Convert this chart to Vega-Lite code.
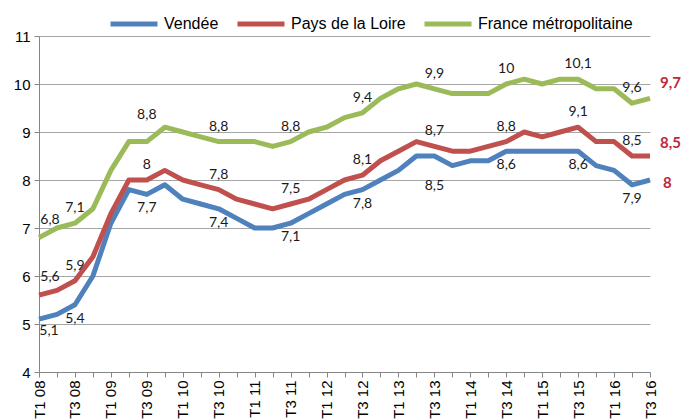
{
  "$schema": "https://vega.github.io/schema/vega-lite/v6.json",
  "width": 611,
  "height": 336,
  "autosize": {"type": "none"},
  "padding": {"left": 39, "top": 36, "right": 31, "bottom": 47},
  "background": "white",
  "config": {
    "view": {"stroke": null},
    "locale": {"number": {"decimal": ",", "thousands": " ", "grouping": [3], "currency": ["", " €"]}}
  },
  "datasets": {
    "d": [
      {"q": "T1 08", "s": "Vendée", "v": 5.1}, {"q": "T2 08", "s": "Vendée", "v": 5.2}, {"q": "T3 08", "s": "Vendée", "v": 5.4}, {"q": "T4 08", "s": "Vendée", "v": 6.0},
      {"q": "T1 09", "s": "Vendée", "v": 7.1}, {"q": "T2 09", "s": "Vendée", "v": 7.8}, {"q": "T3 09", "s": "Vendée", "v": 7.7}, {"q": "T4 09", "s": "Vendée", "v": 7.9},
      {"q": "T1 10", "s": "Vendée", "v": 7.6}, {"q": "T2 10", "s": "Vendée", "v": 7.5}, {"q": "T3 10", "s": "Vendée", "v": 7.4}, {"q": "T4 10", "s": "Vendée", "v": 7.2},
      {"q": "T1 11", "s": "Vendée", "v": 7.0}, {"q": "T2 11", "s": "Vendée", "v": 7.0}, {"q": "T3 11", "s": "Vendée", "v": 7.1}, {"q": "T4 11", "s": "Vendée", "v": 7.3},
      {"q": "T1 12", "s": "Vendée", "v": 7.5}, {"q": "T2 12", "s": "Vendée", "v": 7.7}, {"q": "T3 12", "s": "Vendée", "v": 7.8}, {"q": "T4 12", "s": "Vendée", "v": 8.0},
      {"q": "T1 13", "s": "Vendée", "v": 8.2}, {"q": "T2 13", "s": "Vendée", "v": 8.5}, {"q": "T3 13", "s": "Vendée", "v": 8.5}, {"q": "T4 13", "s": "Vendée", "v": 8.3},
      {"q": "T1 14", "s": "Vendée", "v": 8.4}, {"q": "T2 14", "s": "Vendée", "v": 8.4}, {"q": "T3 14", "s": "Vendée", "v": 8.6}, {"q": "T4 14", "s": "Vendée", "v": 8.6},
      {"q": "T1 15", "s": "Vendée", "v": 8.6}, {"q": "T2 15", "s": "Vendée", "v": 8.6}, {"q": "T3 15", "s": "Vendée", "v": 8.6}, {"q": "T4 15", "s": "Vendée", "v": 8.3},
      {"q": "T1 16", "s": "Vendée", "v": 8.2}, {"q": "T2 16", "s": "Vendée", "v": 7.9}, {"q": "T3 16", "s": "Vendée", "v": 8.0},
      {"q": "T1 08", "s": "Pays de la Loire", "v": 5.6}, {"q": "T2 08", "s": "Pays de la Loire", "v": 5.7}, {"q": "T3 08", "s": "Pays de la Loire", "v": 5.9}, {"q": "T4 08", "s": "Pays de la Loire", "v": 6.4},
      {"q": "T1 09", "s": "Pays de la Loire", "v": 7.3}, {"q": "T2 09", "s": "Pays de la Loire", "v": 8.0}, {"q": "T3 09", "s": "Pays de la Loire", "v": 8.0}, {"q": "T4 09", "s": "Pays de la Loire", "v": 8.2},
      {"q": "T1 10", "s": "Pays de la Loire", "v": 8.0}, {"q": "T2 10", "s": "Pays de la Loire", "v": 7.9}, {"q": "T3 10", "s": "Pays de la Loire", "v": 7.8}, {"q": "T4 10", "s": "Pays de la Loire", "v": 7.6},
      {"q": "T1 11", "s": "Pays de la Loire", "v": 7.5}, {"q": "T2 11", "s": "Pays de la Loire", "v": 7.4}, {"q": "T3 11", "s": "Pays de la Loire", "v": 7.5}, {"q": "T4 11", "s": "Pays de la Loire", "v": 7.6},
      {"q": "T1 12", "s": "Pays de la Loire", "v": 7.8}, {"q": "T2 12", "s": "Pays de la Loire", "v": 8.0}, {"q": "T3 12", "s": "Pays de la Loire", "v": 8.1}, {"q": "T4 12", "s": "Pays de la Loire", "v": 8.4},
      {"q": "T1 13", "s": "Pays de la Loire", "v": 8.6}, {"q": "T2 13", "s": "Pays de la Loire", "v": 8.8}, {"q": "T3 13", "s": "Pays de la Loire", "v": 8.7}, {"q": "T4 13", "s": "Pays de la Loire", "v": 8.6},
      {"q": "T1 14", "s": "Pays de la Loire", "v": 8.6}, {"q": "T2 14", "s": "Pays de la Loire", "v": 8.7}, {"q": "T3 14", "s": "Pays de la Loire", "v": 8.8}, {"q": "T4 14", "s": "Pays de la Loire", "v": 9.0},
      {"q": "T1 15", "s": "Pays de la Loire", "v": 8.9}, {"q": "T2 15", "s": "Pays de la Loire", "v": 9.0}, {"q": "T3 15", "s": "Pays de la Loire", "v": 9.1}, {"q": "T4 15", "s": "Pays de la Loire", "v": 8.8},
      {"q": "T1 16", "s": "Pays de la Loire", "v": 8.8}, {"q": "T2 16", "s": "Pays de la Loire", "v": 8.5}, {"q": "T3 16", "s": "Pays de la Loire", "v": 8.5},
      {"q": "T1 08", "s": "France métropolitaine", "v": 6.8}, {"q": "T2 08", "s": "France métropolitaine", "v": 7.0}, {"q": "T3 08", "s": "France métropolitaine", "v": 7.1}, {"q": "T4 08", "s": "France métropolitaine", "v": 7.4},
      {"q": "T1 09", "s": "France métropolitaine", "v": 8.2}, {"q": "T2 09", "s": "France métropolitaine", "v": 8.8}, {"q": "T3 09", "s": "France métropolitaine", "v": 8.8}, {"q": "T4 09", "s": "France métropolitaine", "v": 9.1},
      {"q": "T1 10", "s": "France métropolitaine", "v": 9.0}, {"q": "T2 10", "s": "France métropolitaine", "v": 8.9}, {"q": "T3 10", "s": "France métropolitaine", "v": 8.8}, {"q": "T4 10", "s": "France métropolitaine", "v": 8.8},
      {"q": "T1 11", "s": "France métropolitaine", "v": 8.8}, {"q": "T2 11", "s": "France métropolitaine", "v": 8.7}, {"q": "T3 11", "s": "France métropolitaine", "v": 8.8}, {"q": "T4 11", "s": "France métropolitaine", "v": 9.0},
      {"q": "T1 12", "s": "France métropolitaine", "v": 9.1}, {"q": "T2 12", "s": "France métropolitaine", "v": 9.3}, {"q": "T3 12", "s": "France métropolitaine", "v": 9.4}, {"q": "T4 12", "s": "France métropolitaine", "v": 9.7},
      {"q": "T1 13", "s": "France métropolitaine", "v": 9.9}, {"q": "T2 13", "s": "France métropolitaine", "v": 10.0}, {"q": "T3 13", "s": "France métropolitaine", "v": 9.9}, {"q": "T4 13", "s": "France métropolitaine", "v": 9.8},
      {"q": "T1 14", "s": "France métropolitaine", "v": 9.8}, {"q": "T2 14", "s": "France métropolitaine", "v": 9.8}, {"q": "T3 14", "s": "France métropolitaine", "v": 10.0}, {"q": "T4 14", "s": "France métropolitaine", "v": 10.1},
      {"q": "T1 15", "s": "France métropolitaine", "v": 10.0}, {"q": "T2 15", "s": "France métropolitaine", "v": 10.1}, {"q": "T3 15", "s": "France métropolitaine", "v": 10.1}, {"q": "T4 15", "s": "France métropolitaine", "v": 9.9},
      {"q": "T1 16", "s": "France métropolitaine", "v": 9.9}, {"q": "T2 16", "s": "France métropolitaine", "v": 9.6}, {"q": "T3 16", "s": "France métropolitaine", "v": 9.7}
    ]
  },
  "data": {"name": "d"},
  "encoding": {
    "x": {
      "field": "q", "type": "ordinal",
      "scale": {"type": "point", "padding": 0, "domain": ["T1 08","T2 08","T3 08","T4 08","T1 09","T2 09","T3 09","T4 09","T1 10","T2 10","T3 10","T4 10","T1 11","T2 11","T3 11","T4 11","T1 12","T2 12","T3 12","T4 12","T1 13","T2 13","T3 13","T4 13","T1 14","T2 14","T3 14","T4 14","T1 15","T2 15","T3 15","T4 15","T1 16","T2 16","T3 16"]},
      "axis": {
        "title": null, "labelAngle": 270, "labelOverlap": false, "labelBound": false,
        "labelExpr": "(substring(datum.label,0,2)=='T1'||substring(datum.label,0,2)=='T3')?datum.label:''",
        "tickSize": 5, "tickColor": "#868686", "domainColor": "#868686", "grid": false,
        "labelFont": "Liberation Sans", "labelFontSize": 15, "labelColor": "#000000", "labelPadding": 3
      }
    },
    "y": {
      "field": "v", "type": "quantitative",
      "scale": {"domain": [4, 11], "nice": false, "zero": false},
      "axis": {
        "title": null, "values": [4,5,6,7,8,9,10,11], "grid": true, "gridColor": "#A6A6A6",
        "tickSize": 5, "tickColor": "#868686", "domainColor": "#868686",
        "labelFont": "Liberation Sans", "labelFontSize": 15, "labelColor": "#000000", "labelPadding": 4
      }
    }
  },
  "layer": [
    {
      "mark": {"type": "line", "strokeWidth": 5, "strokeJoin": "round", "strokeCap": "butt"},
      "encoding": {
        "color": {
          "field": "s", "type": "nominal",
          "scale": {"domain": ["Vendée", "Pays de la Loire", "France métropolitaine"], "range": ["#4F81BD", "#C0504D", "#9BBB59"]},
          "legend": {
            "title": null, "orient": "none", "legendX": 69, "legendY": -38, "direction": "horizontal",
            "symbolType": "stroke", "symbolSize": 2209, "symbolStrokeWidth": 5,
            "labelFont": "Liberation Sans", "labelFontSize": 16, "labelColor": "#000000",
            "labelOffset": 4, "columnPadding": 8, "padding": 0
          }
        }
      }
    },
    {
      "transform": [{"filter": "datum.s != 'Vendée' && indexof(['T3 08','T3 09','T3 10','T3 11','T3 12','T3 13','T3 14','T3 15','T2 16'], datum.q) >= 0 && !(datum.s == 'France métropolitaine' && datum.q == 'T3 09')"}],
      "mark": {"type": "text", "font": "Lato", "fontSize": 14, "color": "#1a1a1a", "dy": -15},
      "encoding": {"text": {"field": "v", "type": "quantitative", "format": "~g"}}
    },
    {
      "transform": [{"filter": "datum.s == 'France métropolitaine' && datum.q == 'T3 09'"}],
      "mark": {"type": "text", "font": "Lato", "fontSize": 14, "color": "#1a1a1a", "dy": -27},
      "encoding": {"text": {"field": "v", "type": "quantitative", "format": "~g"}}
    },
    {
      "transform": [{"filter": "datum.s != 'Vendée' && datum.q == 'T1 08'"}],
      "mark": {"type": "text", "font": "Lato", "fontSize": 14, "color": "#1a1a1a", "dy": -18, "dx": 11},
      "encoding": {"text": {"field": "v", "type": "quantitative", "format": "~g"}}
    },
    {
      "transform": [{"filter": "datum.s == 'Vendée' && indexof(['T3 08','T3 09','T3 10','T3 11','T3 12','T3 14','T3 15','T2 16'], datum.q) >= 0"}],
      "mark": {"type": "text", "font": "Lato", "fontSize": 14, "color": "#1a1a1a", "dy": 14},
      "encoding": {"text": {"field": "v", "type": "quantitative", "format": "~g"}}
    },
    {
      "transform": [{"filter": "datum.s == 'Vendée' && datum.q == 'T3 13'"}],
      "mark": {"type": "text", "font": "Lato", "fontSize": 14, "color": "#1a1a1a", "dy": 30},
      "encoding": {"text": {"field": "v", "type": "quantitative", "format": "~g"}}
    },
    {
      "transform": [{"filter": "datum.s == 'Vendée' && datum.q == 'T1 08'"}],
      "mark": {"type": "text", "font": "Lato", "fontSize": 14, "color": "#1a1a1a", "dy": 12, "dx": 10},
      "encoding": {"text": {"field": "v", "type": "quantitative", "format": "~g"}}
    },
    {
      "transform": [{"filter": "datum.s == 'France métropolitaine' && datum.q == 'T3 16'"}],
      "mark": {"type": "text", "font": "Lato", "fontSize": 15, "fontWeight": "bold", "color": "#C0283C", "align": "left", "dx": 10, "dy": -15},
      "encoding": {"text": {"field": "v", "type": "quantitative", "format": "~g"}}
    },
    {
      "transform": [{"filter": "datum.s == 'Pays de la Loire' && datum.q == 'T3 16'"}],
      "mark": {"type": "text", "font": "Lato", "fontSize": 15, "fontWeight": "bold", "color": "#C0283C", "align": "left", "dx": 10, "dy": -13},
      "encoding": {"text": {"field": "v", "type": "quantitative", "format": "~g"}}
    },
    {
      "transform": [{"filter": "datum.s == 'Vendée' && datum.q == 'T3 16'"}],
      "mark": {"type": "text", "font": "Lato", "fontSize": 15, "fontWeight": "bold", "color": "#C0283C", "align": "left", "dx": 13, "dy": 3},
      "encoding": {"text": {"field": "v", "type": "quantitative", "format": "~g"}}
    }
  ]
}
